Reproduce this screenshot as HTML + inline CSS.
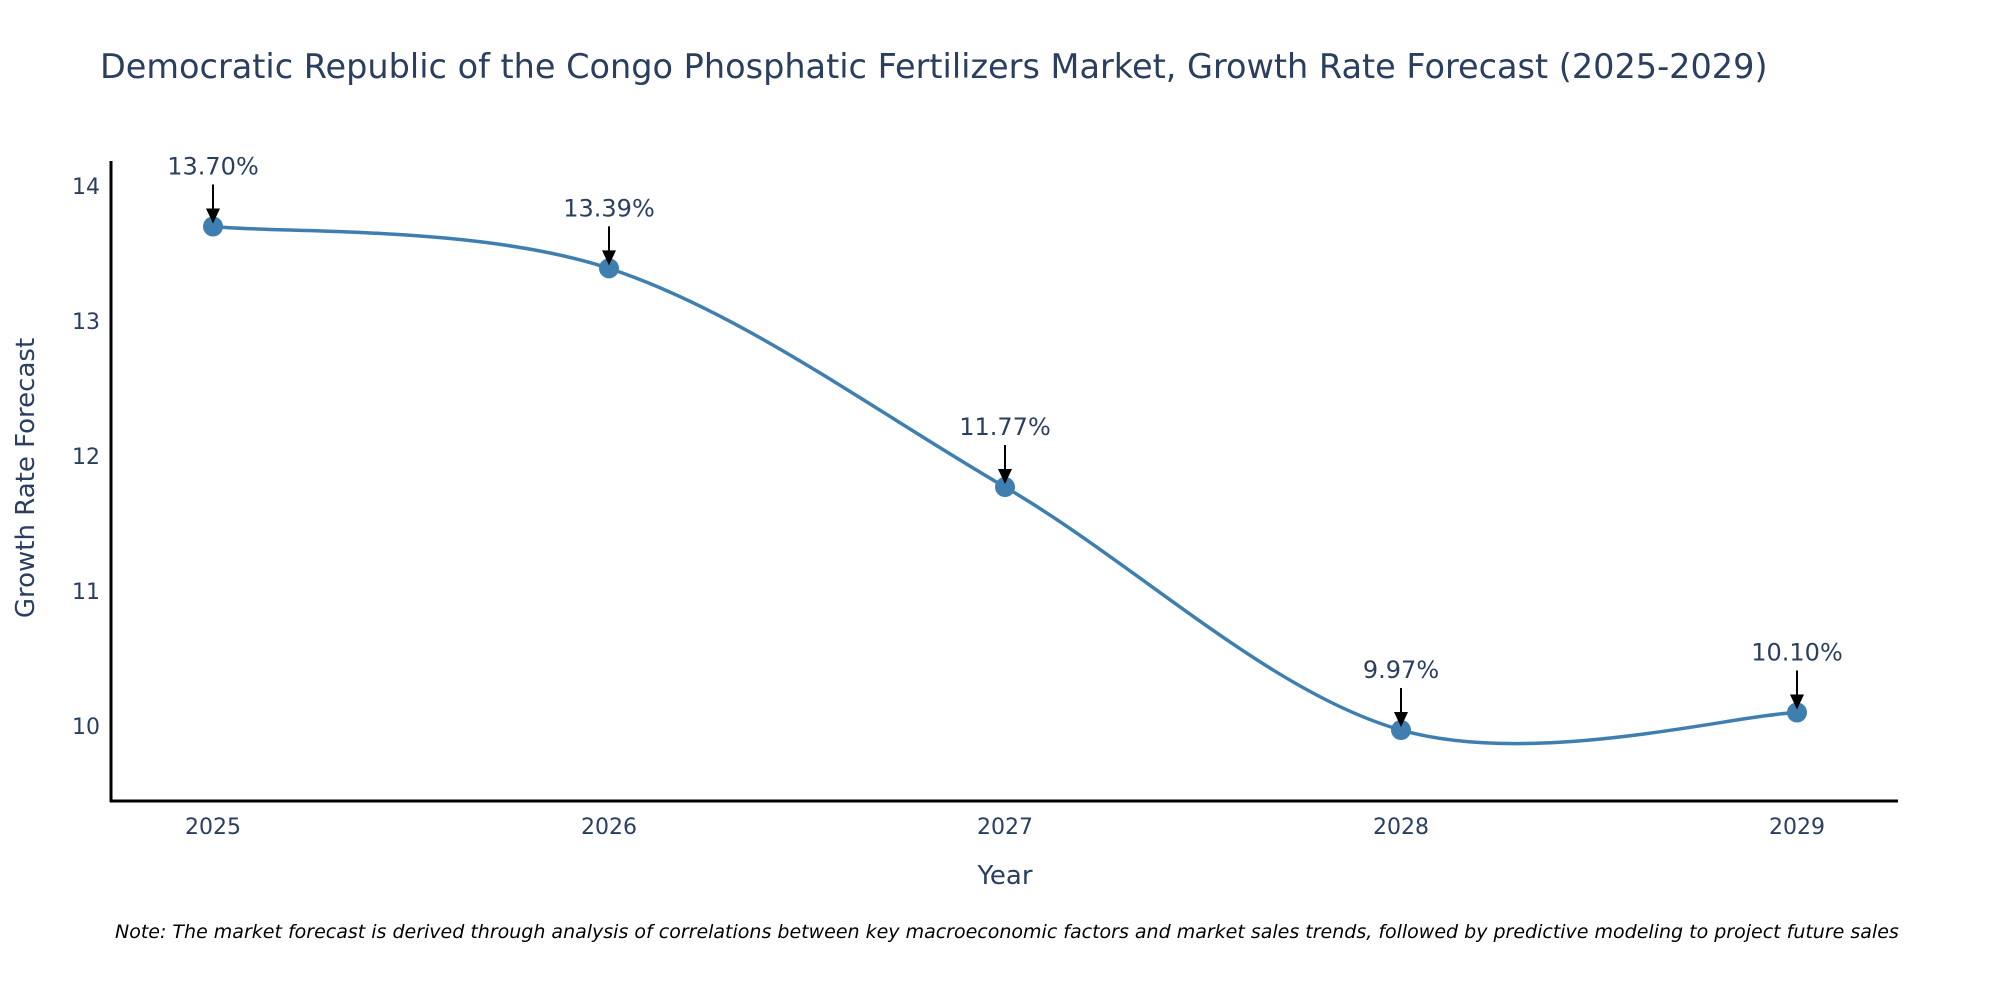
<!DOCTYPE html>
<html><head><meta charset="utf-8"><style>
body{margin:0;background:#fff}
svg text{font-family:"DejaVu Sans","Liberation Sans",sans-serif}
</style></head><body>
<svg id="chart" width="2000" height="1000" xmlns="http://www.w3.org/2000/svg">
<rect width="2000" height="1000" fill="#fff"/>
<text x="100" y="78" font-size="33.5" fill="#2a3f5f">Democratic Republic of the Congo Phosphatic Fertilizers Market, Growth Rate Forecast (2025-2029)</text>
<g id="yticks"></g><g id="xticks"></g>
<path id="line" fill="none" stroke="#3f7fb0" stroke-width="3.5"/>
<g id="points"></g><g id="annos"></g>
<line x1="111" y1="161" x2="111" y2="802" stroke="#000" stroke-width="3"/>
<line x1="110" y1="801" x2="1898" y2="801" stroke="#000" stroke-width="3"/>
<text transform="translate(34,478) rotate(-90)" text-anchor="middle" font-size="26" fill="#2a3f5f">Growth Rate Forecast</text>
<text x="1005" y="884" text-anchor="middle" font-size="26" fill="#2a3f5f">Year</text>
<text x="115" y="938" font-size="19" font-style="italic" fill="#000">Note: The market forecast is derived through analysis of correlations between key macroeconomic factors and market sales trends, followed by predictive modeling to project future sales</text>
</svg>
<script>
const years=[2025,2026,2027,2028,2029];
const values=[13.70,13.39,11.77,9.97,10.10];
const labels=["13.70%","13.39%","11.77%","9.97%","10.10%"];
const yTicks=[10,11,12,13,14];
const NS="http://www.w3.org/2000/svg";
const xs=y=>213+(y-2025)*396;
const ys=v=>726-(v-10)*135;
function mk(t,a,p){const e=document.createElementNS(NS,t);for(const k in a)e.setAttribute(k,a[k]);p.appendChild(e);return e;}
const yt=document.getElementById('yticks'),xt=document.getElementById('xticks');
yTicks.forEach(v=>{const t=mk('text',{x:100,y:ys(v)+8,'text-anchor':'end','font-size':22,fill:'#2a3f5f'},yt);


t.textContent=v;});
years.forEach(y=>{const t=mk('text',{x:xs(y),y:834,'text-anchor':'middle','font-size':22,fill:'#2a3f5f'},xt);


t.textContent=y;});
const P=years.map((y,i)=>[xs(y),ys(values[i])]);
let d='M'+P[0][0]+','+P[0][1];const s=1/6;
for(let i=0;i<P.length-1;i++){const p0=P[Math.max(i-1,0)],p1=P[i],p2=P[i+1],p3=P[Math.min(i+2,P.length-1)];
d+=' C'+(p1[0]+(p2[0]-p0[0])*s)+','+(p1[1]+(p2[1]-p0[1])*s)+' '+(p2[0]-(p3[0]-p1[0])*s)+','+(p2[1]-(p3[1]-p1[1])*s)+' '+p2[0]+','+p2[1];}
document.getElementById('line').setAttribute('d',d);
const pg=document.getElementById('points'),ag=document.getElementById('annos');
P.forEach((p,i)=>{const c=mk('circle',{cx:p[0],cy:p[1],r:10,fill:'#3f7fb0'},pg);


const l=mk('line',{x1:p[0],y1:p[1]-42,x2:p[0],y2:p[1]-14,stroke:'#000','stroke-width':2},ag);


const h=mk('polygon',{points:(p[0]-7)+','+(p[1]-18)+' '+(p[0]+7)+','+(p[1]-18)+' '+p[0]+','+(p[1]-3),fill:'#000'},ag);


const t=mk('text',{x:p[0],y:p[1]-52,'text-anchor':'middle','font-size':24,fill:'#2a3f5f'},ag);


t.textContent=labels[i];});
</script>
</body></html>
